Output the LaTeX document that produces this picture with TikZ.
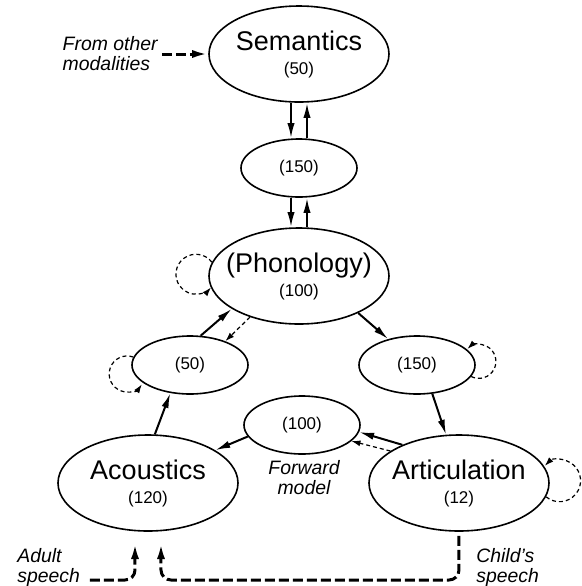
\documentclass[tikz,border=0pt]{standalone}
\usepackage{fontspec}
\setmainfont{Liberation Sans}
\usetikzlibrary{arrows.meta,shapes.geometric}

\newcommand\namefont{\fontsize{13.5}{13}\selectfont}
\newcommand\numfont{\fontsize{8.5}{13}\selectfont}
\newcommand\notefont{\fontsize{9.7}{10}\selectfont\itshape}

\tikzset{
  >={Latex[length=7.5pt,width=3.6pt]},
  layer/.style={ellipse,draw,line width=0.8pt,inner sep=0pt,align=center},
  big/.style={layer,inner xsep=-8pt,minimum width=90pt,minimum height=48pt},
  small/.style={layer,minimum width=58pt,minimum height=29pt,font=\numfont},
  link/.style={->,line width=1pt},
  fb/.style={-{Latex[length=4.5pt,width=3pt]},line width=0.6pt,dash pattern=on 2pt off 1.5pt},
  speech/.style={-{Latex[length=8pt,width=4pt]},line width=1.5pt,dash pattern=on 5pt off 2pt},
  note/.style={font=\notefont,align=left,inner sep=0pt}
}

\begin{document}
\begin{tikzpicture}[x=0.5pt,y=-0.5pt]
  \useasboundingbox (0,0) rectangle (582,586);

  \node[big] at (299,54) (sem) {\namefont Semantics\\\numfont (50)};
  \node[small] at (299,168) (hid1) {(150)};
  \node[big] at (299,276) (phon) {\namefont (Phonology)\\\numfont (100)};
  \node[small] at (190,365) (hidA) {(50)};
  \node[small] at (417,365) (hidB) {(150)};
  \node[small] at (302,425) (fwd) {(100)};
  \node[big] at (148,483) (acou) {\namefont Acoustics\\\numfont (120)};
  \node[big] at (459,483) (artic) {\namefont Articulation\\\numfont (12)};

  \node[note,anchor=east] at (158,54) (other) {From other\\modalities};
  \node[note,align=center] at (304,478) (fwdtxt) {Forward\\model};
  \node[note,anchor=west] at (17,567) (adult) {Adult\\speech};
  \node[note,anchor=west] at (476,567) (child) {Child's\\speech};

  \draw[speech] ([xshift=2pt]other.east) -- (sem.west);
  \draw[link] ([xshift=-4pt]sem.south) -- ([xshift=-4pt]hid1.north);
  \draw[link] ([xshift=4pt]hid1.north) -- ([xshift=4pt]sem.south);
  \draw[link] ([xshift=-4pt]hid1.south) -- ([xshift=-4pt]phon.north);
  \draw[link] ([xshift=4pt]phon.north) -- ([xshift=4pt]hid1.south);

  \draw[link] (hidA.70) -- (phon.206);
  \draw[fb] (phon.220) -- (hidA.34);
  \draw[link] (phon.328) -- (hidB.138);
  \draw[link] (hidB.298) -- (artic.105);
  \draw[link] (artic.146) -- (fwd.353);
  \draw[fb] (artic.155) -- (fwd.342);
  \draw[link] (fwd.192) -- (acou.26);
  \draw[link] (acou.82) -- (hidA.235);

  % recurrent loops
  \draw[fb] (phon.171) arc[start angle=37,end angle=319,radius=10pt];
  \draw[fb] (hidA.172) arc[start angle=70,end angle=325,radius=9pt];
  \draw[fb] (hidB.348) arc[start angle=243,end angle=493,radius=8.5pt];
  \draw[fb] (artic.351) arc[start angle=230,end angle=495,radius=10.5pt];

  % speech input
  \coordinate (floor) at (0,580);
  \coordinate (adstart) at (90,580);
  \coordinate (adtip) at (135,543);
  \coordinate (chtip) at (161,543);
  \draw[speech,rounded corners=5pt] (adstart) -| (adtip);
  \draw[speech,rounded corners=5pt] ([yshift=-2pt]artic.south) |- (chtip |- floor) -- (chtip);
\end{tikzpicture}
\end{document}
